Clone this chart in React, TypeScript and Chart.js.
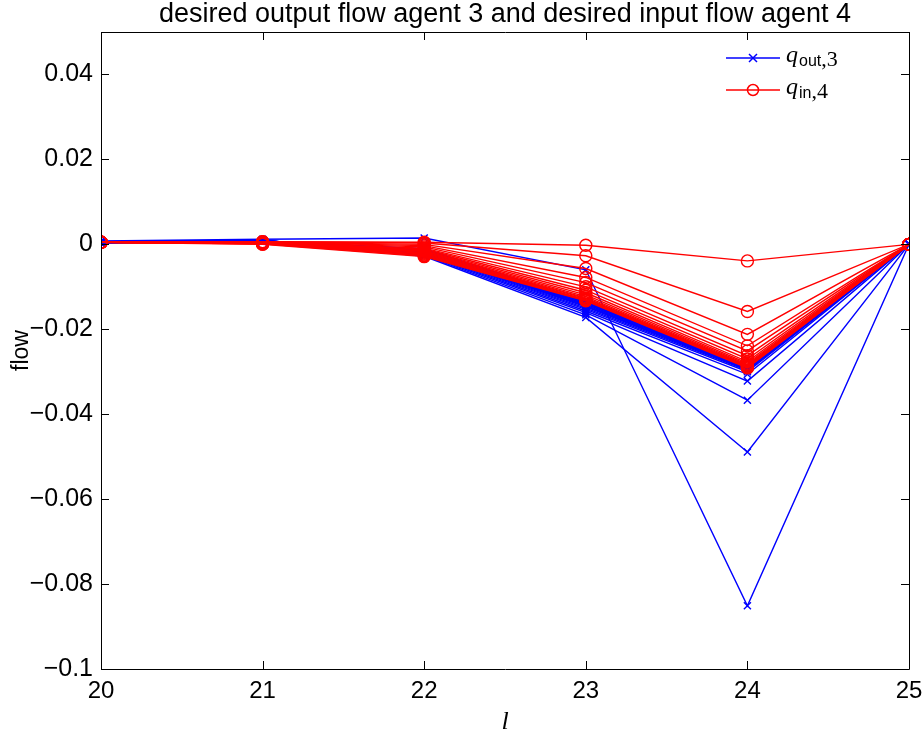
import React, { useEffect, useRef } from "react";
import { Chart, registerables } from "chart.js";

Chart.register(...registerables);

const titleText = "desired output flow agent 3 and desired input flow agent 4";
const xValues = [20, 21, 22, 23, 24, 25];
const xTicks = [20, 21, 22, 23, 24, 25];
const yTicks = [-0.1, -0.08, -0.06, -0.04, -0.02, 0, 0.02, 0.04];

// q_out,3 series (blue, x markers)
const qOut3 = [
  [0.0008, 0.0012, 0.0015, -0.006, -0.0851, 0],
  [0.0006, 0.001, -0.0028, -0.0172, -0.0489, 0],
  [0.0006, 0.001, -0.0026, -0.0166, -0.0367, 0],
  [0.0005, 0.001, -0.0024, -0.0161, -0.0322, 0],
  [0.0005, 0.0009, -0.0022, -0.0157, -0.0306, 0],
  [0.0005, 0.0009, -0.002, -0.0153, -0.03, 0],
  [0.0005, 0.0009, -0.0019, -0.015, -0.0297, 0],
  [0.0004, 0.0009, -0.0018, -0.0147, -0.0295, 0],
  [0.0004, 0.0008, -0.0017, -0.0145, -0.0294, 0],
  [0.0004, 0.0008, -0.0016, -0.0143, -0.0293, 0],
  [0.0004, 0.0008, -0.0015, -0.0141, -0.0292, 0],
  [0.0004, 0.0008, -0.0014, -0.014, -0.0291, 0],
  [0.0003, 0.0008, -0.0013, -0.0138, -0.029, 0],
  [0.0003, 0.0007, -0.0012, -0.0137, -0.029, 0],
  [0.0003, 0.0007, -0.0011, -0.0136, -0.0289, 0],
  [0.0003, 0.0007, -0.001, -0.0135, -0.0288, 0],
];

// q_in,4 series (red, circle markers)
const qIn4 = [
  [0.0005, 0.0006, 0.0005, -0.0002, -0.0039, 0],
  [0.0005, 0.0006, 0.0003, -0.0027, -0.0158, 0],
  [0.0005, 0.0005, 0.0, -0.0057, -0.0212, 0],
  [0.0005, 0.0005, -0.0003, -0.0078, -0.0239, 0],
  [0.0005, 0.0005, -0.0006, -0.009, -0.0251, 0],
  [0.0005, 0.0004, -0.0009, -0.01, -0.0262, 0],
  [0.0005, 0.0004, -0.0011, -0.0108, -0.027, 0],
  [0.0005, 0.0004, -0.0013, -0.0114, -0.0276, 0],
  [0.0005, 0.0003, -0.0015, -0.0119, -0.028, 0],
  [0.0005, 0.0003, -0.0017, -0.0123, -0.0283, 0],
  [0.0005, 0.0003, -0.0019, -0.0126, -0.0285, 0],
  [0.0005, 0.0002, -0.0021, -0.0128, -0.0287, 0],
  [0.0005, 0.0002, -0.0023, -0.013, -0.0288, 0],
  [0.0005, 0.0001, -0.0025, -0.0131, -0.0289, 0],
  [0.0005, 0.0001, -0.0027, -0.0132, -0.029, 0],
  [0.0005, 0.0, -0.0029, -0.0133, -0.0291, 0],
];

const BLUE = "#0000ff";
const RED = "#ff0000";
const SANS = "'Liberation Sans', Arial, Helvetica, sans-serif";
const SERIF = "'Liberation Serif', 'Times New Roman', serif";

function fmtY(v: number): string {
  if (Math.abs(v) < 1e-9) return "0";
  let s = v.toFixed(2);
  s = s.replace(/0+$/, "");
  return s.replace("-", "\u2212");
}

const framePlugin = {
  id: "matlabFrame",
  afterDraw(chart: any) {
    const { ctx, chartArea } = chart;
    const { left, right, top, bottom } = chartArea;
    const xs = chart.scales.x;
    const ys = chart.scales.y;
    ctx.save();
    ctx.strokeStyle = "#000";
    ctx.lineWidth = 1;
    ctx.beginPath();
    ctx.rect(Math.round(left) + 0.5, Math.round(top) + 0.5, Math.round(right - left), Math.round(bottom - top));
    ctx.stroke();
    const tl = 8;
    ctx.beginPath();
    for (const t of xTicks) {
      const px = Math.round(xs.getPixelForValue(t)) + 0.5;
      ctx.moveTo(px, bottom);
      ctx.lineTo(px, bottom - tl);
      ctx.moveTo(px, top);
      ctx.lineTo(px, top + tl);
    }
    for (const t of yTicks) {
      const py = Math.round(ys.getPixelForValue(t)) + 0.5;
      ctx.moveTo(left, py);
      ctx.lineTo(left + tl, py);
      ctx.moveTo(right, py);
      ctx.lineTo(right - tl, py);
    }
    ctx.stroke();

    // Title
    ctx.fillStyle = "#000";
    ctx.font = `27px ${SANS}`;
    ctx.textAlign = "center";
    ctx.textBaseline = "middle";
    ctx.fillText(titleText, (left + right) / 2, 15);

    // Legend
    const lx0 = 726;
    const lx1 = 780;
    const mx = 753;
    const rows = [
      { y: 58, color: BLUE, marker: "x", sub: "out", num: "3" },
      { y: 90, color: RED, marker: "o", sub: "in", num: "4" },
    ];
    for (const r of rows) {
      ctx.strokeStyle = r.color;
      ctx.lineWidth = 1.5;
      ctx.beginPath();
      ctx.moveTo(lx0, r.y);
      ctx.lineTo(lx1, r.y);
      ctx.stroke();
      ctx.beginPath();
      if (r.marker === "x") {
        const s = 4;
        ctx.moveTo(mx - s, r.y - s);
        ctx.lineTo(mx + s, r.y + s);
        ctx.moveTo(mx - s, r.y + s);
        ctx.lineTo(mx + s, r.y - s);
      } else {
        ctx.arc(mx, r.y, 5.5, 0, Math.PI * 2);
      }
      ctx.stroke();
      ctx.fillStyle = "#000";
      ctx.textAlign = "left";
      ctx.textBaseline = "alphabetic";
      let x = 786;
      const base = r.y + 4;
      ctx.font = `italic 24px ${SERIF}`;
      ctx.fillText("q", x, base);
      x += ctx.measureText("q").width + 1;
      ctx.font = `16px ${SANS}`;
      ctx.fillText(r.sub, x, base + 4);
      x += ctx.measureText(r.sub).width;
      ctx.font = `22px ${SERIF}`;
      ctx.fillText("," + r.num, x, base + 4);
    }
    ctx.restore();
  },
};

export default function App() {
  const ref = useRef<HTMLCanvasElement | null>(null);
  useEffect(() => {
    if (!ref.current) return;
    const datasets: any[] = [];
    qIn4.forEach((s, i) => {
      datasets.push({
        label: i === 0 ? "q_in,4" : "",
        data: s.map((v, j) => ({ x: xValues[j], y: v })),
        borderColor: RED,
        backgroundColor: "rgba(0,0,0,0)",
        borderWidth: 1.4,
        pointStyle: "circle",
        pointRadius: 6,
        pointBorderWidth: 1.4,
        pointBorderColor: RED,
        pointBackgroundColor: "rgba(0,0,0,0)",
        tension: 0,
      });
    });
    qOut3.forEach((s, i) => {
      datasets.push({
        label: i === 0 ? "q_out,3" : "",
        data: s.map((v, j) => ({ x: xValues[j], y: v })),
        borderColor: BLUE,
        backgroundColor: "rgba(0,0,0,0)",
        borderWidth: 1.4,
        pointStyle: "crossRot",
        pointRadius: 5,
        pointBorderWidth: 1.4,
        pointBorderColor: BLUE,
        tension: 0,
      });
    });

    const chart = new Chart(ref.current, {
      type: "line",
      data: { datasets },
      options: {
        animation: false,
        responsive: false,
        devicePixelRatio: 1,
        layout: { padding: { left: 0, top: 32, right: 13, bottom: 0 } },
        plugins: {
          legend: { display: false },
          title: { display: false },
          tooltip: { enabled: false },
        },
        scales: {
          x: {
            type: "linear",
            min: 20,
            max: 25,
            grid: { display: false, drawTicks: false },
            border: { display: false },
            afterBuildTicks: (scale: any) => {
              scale.ticks = xTicks.map((v) => ({ value: v }));
            },
            afterFit: (scale: any) => {
              scale.height = 71;
              scale.paddingRight = 0;
              scale.paddingLeft = 0;
            },
            ticks: {
              color: "#000",
              font: { family: SANS, size: 24 },
              padding: 8,
              maxRotation: 0,
              callback: (v: any) => String(v),
            },
            title: {
              display: true,
              text: "l",
              color: "#000",
              font: { family: SERIF, size: 26, style: "italic" },
              padding: { top: 0, bottom: 2 },
            },
          },
          y: {
            type: "linear",
            min: -0.1,
            max: 0.05,
            grid: { display: false, drawTicks: false },
            border: { display: false },
            afterBuildTicks: (scale: any) => {
              scale.ticks = yTicks.map((v) => ({ value: v }));
            },
            afterFit: (scale: any) => {
              scale.width = 101;
              scale.paddingTop = 0;
              scale.paddingBottom = 0;
            },
            ticks: {
              color: "#000",
              font: { family: SANS, size: 25 },
              padding: 8,
              callback: (v: any) => fmtY(Number(v)),
            },
            title: {
              display: true,
              text: "flow",
              color: "#000",
              font: { family: SANS, size: 23 },
              padding: { top: 8, bottom: 0 },
            },
          },
        },
      },
      plugins: [framePlugin],
    });
    return () => chart.destroy();
  }, []);

  return (
    <div style={{ position: "fixed", left: 0, top: 0, width: 922, height: 740, background: "#fff" }}>
      <canvas ref={ref} width={922} height={740} style={{ display: "block" }} />
    </div>
  );
}
